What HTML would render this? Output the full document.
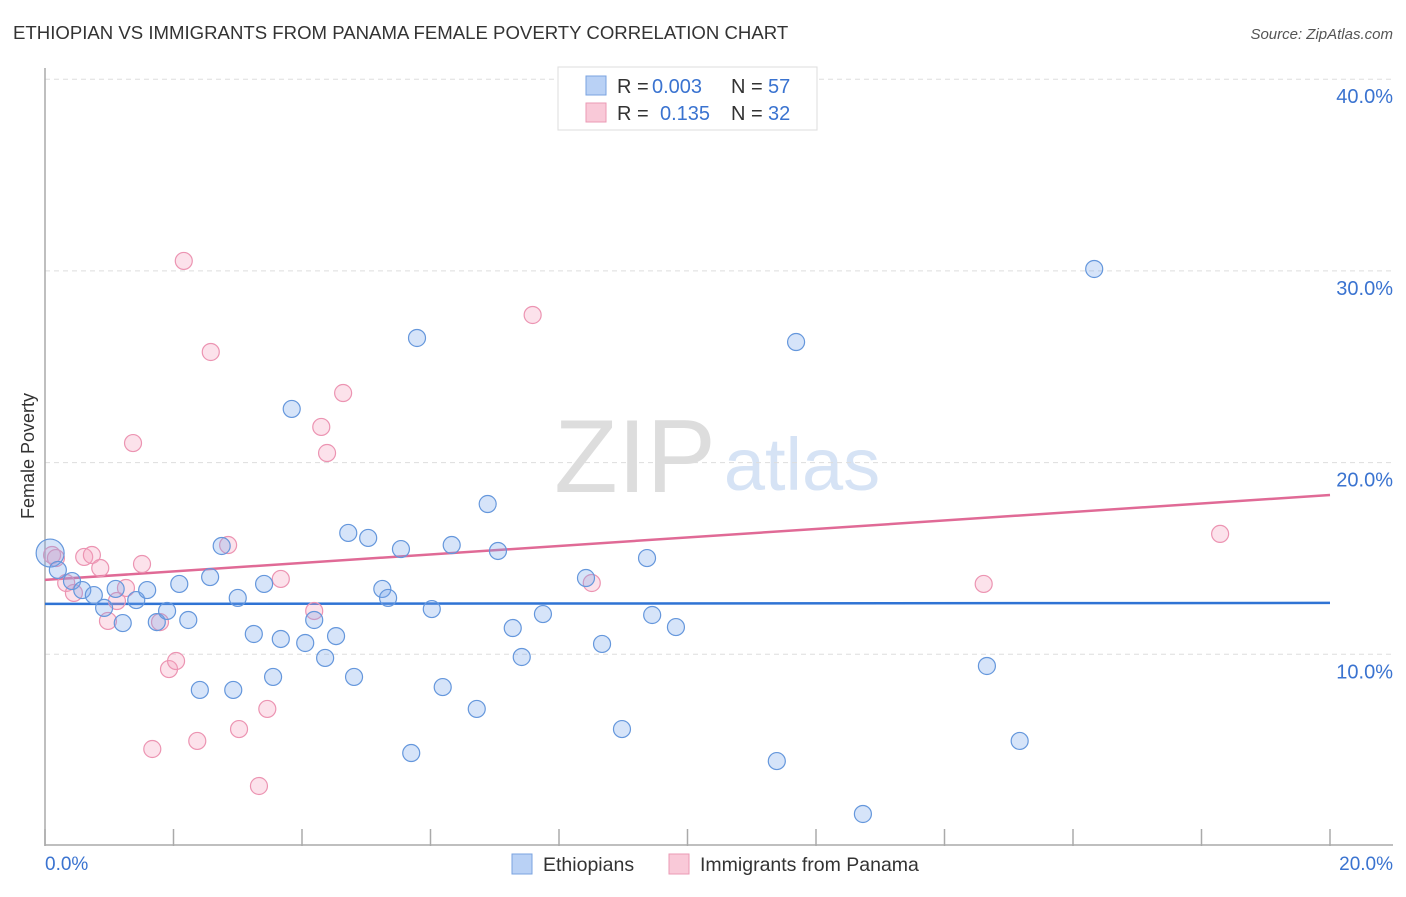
<!DOCTYPE html>
<html><head><meta charset="utf-8"><style>
body{margin:0;background:#fff;font-family:"Liberation Sans",sans-serif}
svg text{font-family:"Liberation Sans",sans-serif}
</style></head><body>
<svg id="chart" width="1406" height="892" viewBox="0 0 1406 892">
<text x="13" y="39" font-size="18.6" fill="#333">ETHIOPIAN VS IMMIGRANTS FROM PANAMA FEMALE POVERTY CORRELATION CHART</text>
<text x="1393" y="39" font-size="15" fill="#555" font-style="italic" text-anchor="end">Source: ZipAtlas.com</text>
<text x="635" y="492" font-size="104" fill="#ddd" font-family="Liberation Serif,serif" text-anchor="middle">ZIP</text>
<text x="802" y="490" font-size="74" fill="#d6e3f5" text-anchor="middle">atlas</text>
<g id="grid"></g><g id="axes"></g><g id="lines"></g><g id="pts"></g>
<text transform="translate(34,456) rotate(-90)" font-size="18" fill="#333" text-anchor="middle">Female Poverty</text>
<text x="45" y="870" font-size="19" fill="#3a73d0">0.0%</text>
<text x="1393" y="870" font-size="19" fill="#3a73d0" text-anchor="end">20.0%</text>
<g>
<rect x="558" y="67" width="259" height="63" fill="#fff" stroke="#ddd"/>
<rect x="586" y="76" width="20" height="19" fill="#b9d1f5" stroke="#7aa3e0"/>
<rect x="586" y="103" width="20" height="19" fill="#f9c9d8" stroke="#eb9ab5"/>
<text x="617" y="93" font-size="20" fill="#333">R = <tspan x="652" fill="#3a73d0">0.003</tspan><tspan x="731">N = </tspan><tspan x="768" fill="#3a73d0">57</tspan></text>
<text x="617" y="120" font-size="20" fill="#333">R = <tspan x="660" fill="#3a73d0">0.135</tspan><tspan x="731">N = </tspan><tspan x="768" fill="#3a73d0">32</tspan></text>
</g>
<g>
<rect x="512" y="854" width="20" height="20" fill="#b9d1f5" stroke="#7aa3e0"/>
<text x="543" y="871" font-size="19.5" fill="#333">Ethiopians</text>
<rect x="669" y="854" width="20" height="20" fill="#f9c9d8" stroke="#eb9ab5"/>
<text x="700" y="871" font-size="19.5" fill="#333">Immigrants from Panama</text>
</g>
</svg>
<script>
const yTicks=[10,20,30,40];
const yTickLabels=["10.0%","20.0%","30.0%","40.0%"];
const blueX=[0.08,0.20,0.42,0.58,0.76,0.92,1.10,1.21,1.42,1.59,1.74,1.90,2.09,2.23,2.41,2.57,2.75,2.93,3.00,3.25,3.41,3.55,3.67,3.84,4.05,4.19,4.36,4.53,4.72,4.81,5.03,5.25,5.34,5.54,5.70,5.79,6.02,6.19,6.33,6.72,6.89,7.05,7.28,7.42,7.75,8.42,8.67,8.98,9.37,9.45,9.82,11.39,11.69,12.73,14.66,15.17,16.33];
const blueY=[15.28,14.40,13.82,13.35,13.09,12.42,13.41,11.63,12.83,13.35,11.68,12.26,13.67,11.79,8.14,14.03,15.65,8.14,12.94,11.06,13.67,8.82,10.80,22.80,10.59,11.79,9.81,10.95,16.33,8.82,16.07,13.41,12.94,15.49,4.85,26.50,12.36,8.29,15.70,7.15,17.84,15.39,11.37,9.86,12.10,13.98,10.54,6.10,15.02,12.05,11.42,4.43,26.29,1.67,9.39,5.48,30.10];
const pinkX=[0.11,0.17,0.33,0.45,0.61,0.73,0.86,0.98,1.12,1.26,1.37,1.51,1.67,1.79,1.93,2.04,2.16,2.37,2.58,2.85,3.02,3.46,3.33,3.67,4.19,4.30,4.39,4.64,7.59,8.51,14.61,18.29];
const pinkY=[15.18,15.02,13.72,13.20,15.08,15.18,14.50,11.74,12.78,13.46,21.02,14.71,5.06,11.68,9.23,9.65,30.52,5.48,25.77,15.70,6.10,7.15,3.13,13.93,12.26,21.86,20.50,23.63,27.70,13.72,13.67,16.28];
const blueTrend=[12.63,12.68];
const pinkTrend=[13.88,18.31];
const NS="http://www.w3.org/2000/svg";
const X=v=>45+v/20*1285, Y=v=>846-v*19.17;
function mk(t,a,p){const e=document.createElementNS(NS,t);for(const k in a)e.setAttribute(k,a[k]);document.getElementById(p).appendChild(e);return e;}
yTicks.forEach((t,i)=>{
 const g=mk('line',{x1:45,x2:1393,y1:Y(t),y2:Y(t),stroke:'#ddd','stroke-dasharray':'5,4'},'grid');
 
 
 const l=mk('text',{x:1393,y:Y(t)+24,'font-size':20,fill:'#3a73d0','text-anchor':'end'},'grid');
 l.textContent=yTickLabels[i];
 
 
});
const ya=mk('line',{x1:45,x2:45,y1:68,y2:846,stroke:'#aaa','stroke-width':1.5},'axes');


const xa=mk('line',{x1:45,x2:1393,y1:845,y2:845,stroke:'#aaa','stroke-width':1.5},'axes');


for(let i=0;i<=10;i++){const t=mk('line',{x1:X(i*2),x2:X(i*2),y1:829,y2:846,stroke:'#aaa','stroke-width':1.5},'axes');
 
 }
function pts(xs,ys,fill,stroke,name){xs.forEach((x,i)=>{
 const c=mk('circle',{cx:X(x),cy:Y(ys[i]),r:(name==='ethiopian-point'&&i===0)?14:8.5,fill:fill,stroke:stroke,'stroke-width':1.2},'pts');
 
 });}
pts(pinkX,pinkY,'rgba(244,160,190,0.3)','#ec94b2','panama-point');
pts(blueX,blueY,'rgba(120,165,235,0.3)','#6597dc','ethiopian-point');
const bl=mk('line',{x1:X(0),x2:X(20),y1:Y(blueTrend[0]),y2:Y(blueTrend[1]),stroke:'#2f73d4','stroke-width':2.5},'lines');


const pl=mk('line',{x1:X(0),x2:X(20),y1:Y(pinkTrend[0]),y2:Y(pinkTrend[1]),stroke:'#e06a96','stroke-width':2.5},'lines');


</script>
</body></html>
